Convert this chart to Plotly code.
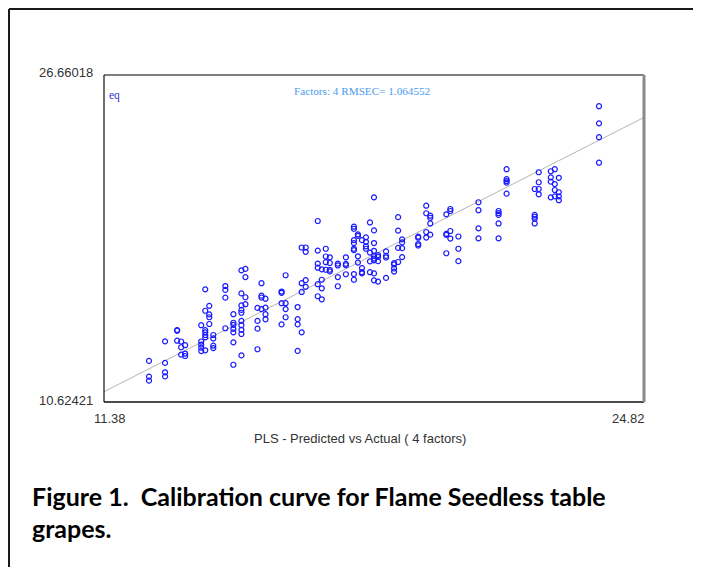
import plotly.graph_objects as go

# Actual (x) and predicted (y) values
actual = (
    [12.5]*3 + [12.9]*4 + [13.2]*3 + [13.3]*3 + [13.4]*3 + [13.8]*5 + [13.9]*7 +
    [14.0]*4 + [14.1]*4 + [14.4]*4 + [14.6]*7 + [14.8]*10 + [14.9]*4 + [15.2]*4 +
    [15.3]*4 + [15.4]*4 + [15.8]*4 + [15.9]*4 + [16.2]*4 + [16.3]*4 + [16.4]*4 +
    [16.7]*6 + [16.8]*4 + [16.9]*4 + [17.0]*4 + [17.2]*4 + [17.4]*4 + [17.6]*8 +
    [17.7]*4 + [17.8]*4 + [17.9]*4 + [18.0]*4 + [18.1]*9 + [18.2]*4 + [18.4]*4 +
    [18.6]*4 + [18.7]*4 + [18.8]*4 + [19.2]*4 + [19.4]*4 + [19.5]*4 + [19.9]*4 +
    [20.0]*4 + [20.2]*3 + [20.7]*4 + [21.2]*5 + [21.4]*5 + [22.1]*5 + [22.2]*4 +
    [22.5]*4 + [22.6]*4 + [22.7]*4 + [23.7]*4
)
predicted = [
    12.64, 11.87, 11.67,
    13.60, 12.54, 12.08, 11.88,
    14.15, 14.12, 13.63,
    13.59, 13.31, 12.95,
    13.41, 13.00, 12.88,
    14.39, 13.59, 13.44, 13.29, 13.12,
    16.15, 15.10, 14.15, 14.04, 13.91, 13.80, 13.16,
    15.34, 14.92, 14.78, 14.45,
    13.91, 13.74, 13.39, 13.27,
    16.31, 16.12, 15.74, 14.24,
    14.93, 14.51, 14.41, 14.21, 14.04, 13.55, 12.45,
    17.08, 15.95, 15.36, 15.14, 15.00, 14.60, 14.39, 14.16, 13.96, 12.91,
    17.15, 16.75, 15.76, 15.42,
    15.24, 14.60, 14.22, 13.21,
    16.45, 15.84, 15.75, 15.18,
    15.69, 15.25, 14.93, 14.68,
    16.04, 15.98, 15.47, 14.43,
    16.84, 15.47, 15.18, 14.78,
    15.28, 14.69, 14.43, 13.13,
    18.20, 16.45, 16.02, 14.04,
    18.20, 17.99, 16.60, 16.27,
    19.50, 18.05, 17.41, 17.21, 16.40, 15.81,
    17.13, 16.62, 16.20, 15.66,
    18.14, 17.76, 17.48, 17.11,
    17.72, 17.44, 17.11, 17.03,
    17.41, 17.32, 16.75, 16.30,
    17.72, 17.40, 17.33, 16.89,
    19.22, 19.12, 18.56, 18.42, 18.14, 18.07, 16.90, 16.62,
    18.84, 18.77, 17.77, 17.46,
    18.56, 17.19, 16.99, 16.93,
    18.70, 18.48, 18.26, 18.14,
    19.43, 17.95, 17.52, 16.99,
    20.66, 19.04, 18.42, 18.04, 17.78, 17.66, 17.57, 16.93, 16.59,
    17.83, 17.74, 17.53, 16.53,
    18.01, 17.79, 17.71, 16.71,
    17.43, 17.37, 17.17, 17.02,
    19.69, 19.03, 18.18, 17.49,
    18.60, 18.45, 18.17, 17.73,
    18.73, 18.68, 18.37, 18.30,
    20.25, 19.88, 18.96, 18.69,
    19.76, 19.66, 19.38, 18.83,
    19.83, 18.87, 18.82, 17.92,
    20.09, 19.99, 19.01, 18.64,
    18.74, 18.14, 17.53,
    20.42, 20.03, 19.14, 18.65,
    19.99, 19.89, 19.80, 19.38, 18.65,
    22.04, 21.55, 21.46, 21.38, 20.84,
    21.07, 19.80, 19.71, 19.61, 19.38,
    21.89, 21.40, 21.07, 20.81,
    21.94, 21.64, 21.43, 20.66,
    22.04, 21.31, 21.02, 20.71,
    21.62, 20.91, 20.71, 20.52,
    25.13, 24.29, 23.61, 22.36,
]

fit_x = [11.38, 24.82]
fit_y = [11.13, 24.58]

x_min, x_max = 11.38, 24.82
y_min, y_max = 10.62421, 26.66018
x_tick_labels = ["11.38", "24.82"]
y_tick_labels = ["10.62421", "26.66018"]
x_title = "PLS - Predicted vs Actual ( 4 factors)"
corner_label = "eq"
stats_label = "Factors: 4 RMSEC= 1.064552"
caption_lines = ["Figure 1.  Calibration curve for Flame Seedless table", "grapes."]

# The page body adds an 8px margin; the figure is sized to fill the rest.
OFF = 8
W, H = 701 - OFF, 567 - OFF
L, R, T, B = 104 - OFF, 644 - OFF, 75 - OFF, 402 - OFF


def px(xp):
    return (xp - OFF - L) / (R - L)


def py(yp):
    return (B - (yp - OFF)) / (B - T)


fig = go.Figure()
fig.add_trace(go.Scatter(x=fit_x, y=fit_y, mode="lines",
                         line=dict(color="#b4b4b4", width=1), hoverinfo="skip"))
fig.add_trace(go.Scatter(x=actual, y=predicted, mode="markers",
                         marker=dict(symbol="circle-open", size=5, color="#1a1aff",
                                     line=dict(width=1.2, color="#1a1aff"))))

shapes = [
    # outer border
    dict(type="line", xref="paper", yref="paper", x0=px(9), x1=px(712), y0=py(9), y1=py(9),
         line=dict(color="#1a1a1a", width=2)),
    dict(type="line", xref="paper", yref="paper", x0=px(9), x1=px(9), y0=py(9), y1=py(580),
         line=dict(color="#1a1a1a", width=2)),
    # plot frame
    dict(type="line", xref="paper", yref="paper", x0=0, x1=1, y0=1, y1=1,
         line=dict(color="#555555", width=1.5)),
    dict(type="line", xref="paper", yref="paper", x0=0, x1=0, y0=0, y1=1,
         line=dict(color="#111111", width=1.2)),
    dict(type="line", xref="paper", yref="paper", x0=0, x1=1, y0=0, y1=0,
         line=dict(color="#111111", width=1.5)),
    dict(type="line", xref="paper", yref="paper", x0=1, x1=1, y0=0, y1=1,
         line=dict(color="#8a8a8a", width=3)),
]

axfont = dict(family="Liberation Sans, Arial", size=13, color="#333333")
capfont = dict(family="Lato", size=25, color="#000000", weight="bold")
ann = [
    dict(text=y_tick_labels[1], x=px(95), y=py(72), xanchor="right", yanchor="middle", font=axfont),
    dict(text=y_tick_labels[0], x=px(95), y=py(400), xanchor="right", yanchor="middle", font=axfont),
    dict(text=x_tick_labels[0], x=px(110), y=py(418), xanchor="center", yanchor="middle", font=axfont),
    dict(text=x_tick_labels[1], x=px(647), y=py(418), xanchor="right", yanchor="middle", font=axfont),
    dict(text=x_title, x=px(360), y=py(438), xanchor="center", yanchor="middle", font=axfont),
    dict(text=corner_label, x=px(107), y=py(96), xanchor="left", yanchor="middle",
         font=dict(family="Liberation Serif, Times New Roman", size=11.5, color="#3333cc")),
    dict(text=stats_label, x=px(292), y=py(91), xanchor="left", yanchor="middle",
         font=dict(family="Liberation Serif, Times New Roman", size=11.2, color="#4a9cf0")),
    dict(text=caption_lines[0], x=px(30), y=py(496), xanchor="left", yanchor="middle", font=capfont),
    dict(text=caption_lines[1], x=px(30), y=py(528), xanchor="left", yanchor="middle", font=capfont),
]
for a in ann:
    a.update(xref="paper", yref="paper", showarrow=False)

fig.update_layout(
    width=W, height=H, autosize=False,
    margin=dict(l=L, r=W - R, t=T, b=H - B, pad=0),
    paper_bgcolor="white", plot_bgcolor="white",
    showlegend=False,
    xaxis=dict(range=[x_min, x_max], showgrid=False, zeroline=False, showticklabels=False,
               ticks="", showline=False),
    yaxis=dict(range=[y_min, y_max], showgrid=False, zeroline=False, showticklabels=False,
               ticks="", showline=False),
    shapes=shapes, annotations=ann,
)

fig.write_html("out.html")
